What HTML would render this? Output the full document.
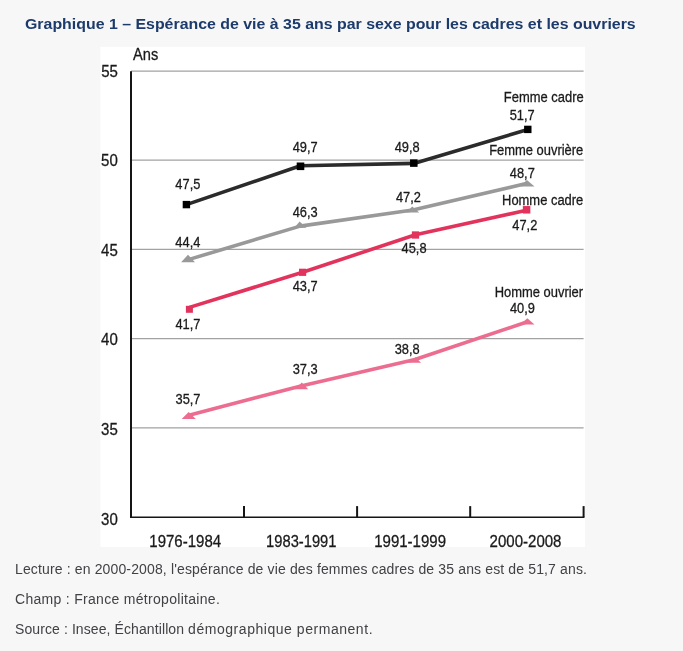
<!DOCTYPE html>
<html lang="fr">
<head>
<meta charset="utf-8">
<title>Graphique 1 – Espérance de vie à 35 ans par sexe pour les cadres et les ouvriers</title>
<style>
html,body{margin:0;padding:0}
body{width:683px;height:651px;overflow:hidden;background:#f7f7f7;position:relative;font-family:"Liberation Sans",sans-serif}
h2{position:absolute;left:24.5px;top:12.8px;margin:0;font-size:15px;line-height:22px;font-weight:bold;color:#1c3a6b;white-space:nowrap;transform-origin:0 0;transform:scaleX(1.06)}
svg{position:absolute;left:0;top:0;display:block}
svg text{font-family:"Liberation Sans",sans-serif;fill:#1a1a1a;stroke:#1a1a1a;stroke-width:0.3px}
p{position:absolute;left:15px;margin:0;font-size:14px;line-height:20px;color:#424246;white-space:nowrap}
#l1{top:559px;letter-spacing:0.14px}
#l2{top:589px;letter-spacing:0.30px}
#l3{top:619px;letter-spacing:0.095px}
#l3 span{letter-spacing:0.54px}
</style>
</head>
<body>
<h2>Graphique 1 – Espérance de vie à 35 ans par sexe pour les cadres et les ouvriers</h2>
<svg width="683" height="651" viewBox="0 0 683 651">
<rect x="100.4" y="46.8" width="484.6" height="500.3" fill="#ffffff"/>
<g stroke="#a2a2a2" stroke-width="1.25" fill="none"><line x1="131.0" y1="71.1" x2="583.6" y2="71.1"/><line x1="131.0" y1="160.0" x2="583.6" y2="160.0"/><line x1="131.0" y1="249.45" x2="583.6" y2="249.45"/><line x1="131.0" y1="338.5" x2="583.6" y2="338.5"/><line x1="131.0" y1="427.8" x2="583.6" y2="427.8"/></g>
<g stroke="#151515" stroke-width="1.6" fill="none"><line x1="131.0" y1="71.3" x2="131.0" y2="518.1" stroke-width="2"/><line x1="130.0" y1="517.3" x2="584.4" y2="517.3"/><line x1="244.0" y1="506.1" x2="244.0" y2="517.3" stroke-width="2"/><line x1="357.1" y1="506.1" x2="357.1" y2="517.3" stroke-width="2"/><line x1="470.2" y1="506.1" x2="470.2" y2="517.3" stroke-width="2"/><line x1="583.6" y1="506.1" x2="583.6" y2="517.3" stroke-width="2"/></g>
<polyline points="188.0,415.4 301.0,386.0 415.0,359.5 527.5,321.8" fill="none" stroke="#ec6d8f" stroke-width="3.6" stroke-linejoin="round"/><polygon points="181.7,419.0 195.8,419.0 188.7,412.0" fill="#ec6d8f"/><polygon points="295.0,389.2 308.2,389.2 301.8,382.6" fill="#ec6d8f"/><polygon points="408.0,362.8 421.0,362.8 415.5,357.2" fill="#ec6d8f"/><polygon points="520.5,324.5 534.5,324.5 527.3,318.3" fill="#ec6d8f"/>
<polyline points="189.4,307.4 302.6,272.3 415.5,234.7 526.6,210.2" fill="none" stroke="#e2335c" stroke-width="3.6" stroke-linejoin="round"/><rect x="185.90" y="305.80" width="7.0" height="7.0" fill="#e2335c"/><rect x="299.00" y="268.70" width="7.2" height="7.2" fill="#e2335c"/><rect x="411.85" y="231.35" width="7.3" height="7.3" fill="#e2335c"/><rect x="522.85" y="206.05" width="7.5" height="7.5" fill="#e2335c"/>
<polyline points="187.5,259.9 300.2,226.1 412.8,210.0 527.3,183.3" fill="none" stroke="#999999" stroke-width="3.6" stroke-linejoin="round"/><polygon points="181.1,262.2 195.0,262.2 188.0,254.8" fill="#999999"/><polygon points="294.4,227.8 306.4,227.8 299.6,221.6" fill="#999999"/><polygon points="406.0,212.5 419.2,212.5 412.3,206.6" fill="#999999"/><polygon points="520.5,186.4 534.5,186.4 526.9,179.9" fill="#999999"/>
<polyline points="186.4,204.6 300.5,165.8 413.8,163.4 527.8,129.6" fill="none" stroke="#2b2b2b" stroke-width="3.6" stroke-linejoin="round"/><rect x="182.70" y="200.90" width="7.4" height="7.4" fill="#000000"/><rect x="296.70" y="162.50" width="7.6" height="7.6" fill="#000000"/><rect x="410.05" y="159.35" width="7.5" height="7.5" fill="#000000"/><rect x="524.10" y="125.70" width="7.4" height="7.4" fill="#000000"/>
<text transform="translate(133.00,59.90) scale(0.8431,1)" font-size="17.4">Ans</text>
<text transform="translate(101.23,76.50) scale(0.8650,1)" font-size="17.4">55</text>
<text transform="translate(101.10,165.60) scale(0.8650,1)" font-size="17.4">50</text>
<text transform="translate(101.05,255.90) scale(0.8650,1)" font-size="17.4">45</text>
<text transform="translate(101.05,345.10) scale(0.8650,1)" font-size="17.4">40</text>
<text transform="translate(101.10,435.20) scale(0.8650,1)" font-size="17.4">35</text>
<text transform="translate(101.10,524.50) scale(0.8650,1)" font-size="17.4">30</text>
<text transform="translate(149.28,546.90) scale(0.8638,1)" font-size="17.4">1976-1984</text>
<text transform="translate(266.10,546.90) scale(0.8460,1)" font-size="17.4">1983-1991</text>
<text transform="translate(374.18,546.90) scale(0.8638,1)" font-size="17.4">1991-1999</text>
<text transform="translate(489.60,546.90) scale(0.8638,1)" font-size="17.4">2000-2008</text>
<text transform="translate(175.35,189.40) scale(0.8570,1)" font-size="15">47,5</text>
<text transform="translate(175.35,246.65) scale(0.8570,1)" font-size="15">44,4</text>
<text transform="translate(175.47,328.70) scale(0.8570,1)" font-size="15">41,7</text>
<text transform="translate(175.52,403.50) scale(0.8570,1)" font-size="15">35,7</text>
<text transform="translate(292.68,151.80) scale(0.8570,1)" font-size="15">49,7</text>
<text transform="translate(292.68,217.05) scale(0.8570,1)" font-size="15">46,3</text>
<text transform="translate(292.68,291.30) scale(0.8570,1)" font-size="15">43,7</text>
<text transform="translate(292.68,373.50) scale(0.8570,1)" font-size="15">37,3</text>
<text transform="translate(394.72,151.80) scale(0.8570,1)" font-size="15">49,8</text>
<text transform="translate(395.92,202.40) scale(0.8570,1)" font-size="15">47,2</text>
<text transform="translate(401.55,252.60) scale(0.8570,1)" font-size="15">45,8</text>
<text transform="translate(394.72,354.20) scale(0.8570,1)" font-size="15">38,8</text>
<text transform="translate(509.68,119.70) scale(0.8570,1)" font-size="15">51,7</text>
<text transform="translate(509.80,178.20) scale(0.8570,1)" font-size="15">48,7</text>
<text transform="translate(512.32,230.30) scale(0.8570,1)" font-size="15">47,2</text>
<text transform="translate(509.88,312.70) scale(0.8570,1)" font-size="15">40,9</text>
<text transform="translate(503.85,101.90) scale(0.8630,1)" font-size="15">Femme cadre</text>
<text transform="translate(489.15,155.00) scale(0.8630,1)" font-size="15">Femme ouvrière</text>
<text transform="translate(502.05,204.90) scale(0.8630,1)" font-size="15">Homme cadre</text>
<text transform="translate(494.70,296.90) scale(0.8630,1)" font-size="15">Homme ouvrier</text>
</svg>
<p id="l1">Lecture : en 2000-2008, l'espérance de vie des femmes cadres de 35 ans est de 51,7 ans.</p>
<p id="l2">Champ : France métropolitaine.</p>
<p id="l3">Source : Insee, Échantillon <span>démographique permanent.</span></p>
</body>
</html>
